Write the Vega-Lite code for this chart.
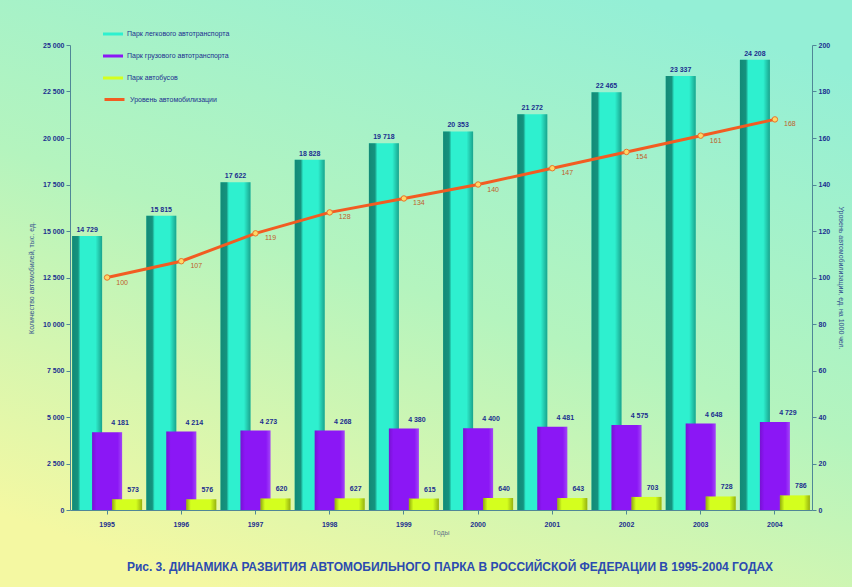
{
  "$schema": "https://vega.github.io/schema/vega-lite/v6.json",
  "width": 852,
  "height": 587,
  "autosize": {"type": "none"},
  "padding": 0,
  "background": "#C4F3BC",
  "config": {
    "font": "Liberation Sans",
    "locale": {"number": {"decimal": ",", "thousands": " ", "grouping": [3], "currency": ["", ""]}},
    "view": {"stroke": null, "fill": {"gradient": "linear", "x1": 0.75, "y1": 0, "x2": 0.25, "y2": 1, "stops": [{"offset": 0, "color": "#94EFD6"}, {"offset": 0.5, "color": "#B4F4BE"}, {"offset": 1, "color": "#F4F8A2"}]}},
    "axis": {"labelFont": "Liberation Sans", "labelFontSize": 7, "labelFontWeight": "bold", "labelColor": "#1B2F8F", "domainColor": "#4F8797", "tickColor": "#4F8797", "tickSize": 4, "grid": false, "titleFont": "Liberation Sans", "titleFontSize": 7, "titleFontWeight": "normal", "titleColor": "#34508F"},
    "legend": {"labelFont": "Liberation Sans", "labelFontSize": 7, "labelColor": "#1B2F8F", "padding": 0, "rowPadding": 9, "labelOffset": 4}
  },
  "title": {"text": "Рис. 3. ДИНАМИКА РАЗВИТИЯ АВТОМОБИЛЬНОГО ПАРКА В РОССИЙСКОЙ ФЕДЕРАЦИИ В 1995-2004 ГОДАХ", "orient": "bottom", "frame": "group", "offset": -25, "fontSize": 12, "fontWeight": "bold", "color": "#2B4BB0", "dx": 24, "anchor": "middle"},
  "datasets": {
    "bars": [
      {"year": "1995", "series": "Парк легкового автотранспорта", "value": 14729},
      {"year": "1995", "series": "Парк грузового автотранспорта", "value": 4181},
      {"year": "1995", "series": "Парк автобусов", "value": 573},
      {"year": "1996", "series": "Парк легкового автотранспорта", "value": 15815},
      {"year": "1996", "series": "Парк грузового автотранспорта", "value": 4214},
      {"year": "1996", "series": "Парк автобусов", "value": 576},
      {"year": "1997", "series": "Парк легкового автотранспорта", "value": 17622},
      {"year": "1997", "series": "Парк грузового автотранспорта", "value": 4273},
      {"year": "1997", "series": "Парк автобусов", "value": 620},
      {"year": "1998", "series": "Парк легкового автотранспорта", "value": 18828},
      {"year": "1998", "series": "Парк грузового автотранспорта", "value": 4268},
      {"year": "1998", "series": "Парк автобусов", "value": 627},
      {"year": "1999", "series": "Парк легкового автотранспорта", "value": 19718},
      {"year": "1999", "series": "Парк грузового автотранспорта", "value": 4380},
      {"year": "1999", "series": "Парк автобусов", "value": 615},
      {"year": "2000", "series": "Парк легкового автотранспорта", "value": 20353},
      {"year": "2000", "series": "Парк грузового автотранспорта", "value": 4400},
      {"year": "2000", "series": "Парк автобусов", "value": 640},
      {"year": "2001", "series": "Парк легкового автотранспорта", "value": 21272},
      {"year": "2001", "series": "Парк грузового автотранспорта", "value": 4481},
      {"year": "2001", "series": "Парк автобусов", "value": 643},
      {"year": "2002", "series": "Парк легкового автотранспорта", "value": 22465},
      {"year": "2002", "series": "Парк грузового автотранспорта", "value": 4575},
      {"year": "2002", "series": "Парк автобусов", "value": 703},
      {"year": "2003", "series": "Парк легкового автотранспорта", "value": 23337},
      {"year": "2003", "series": "Парк грузового автотранспорта", "value": 4648},
      {"year": "2003", "series": "Парк автобусов", "value": 728},
      {"year": "2004", "series": "Парк легкового автотранспорта", "value": 24208},
      {"year": "2004", "series": "Парк грузового автотранспорта", "value": 4729},
      {"year": "2004", "series": "Парк автобусов", "value": 786}
    ],
    "line": [
      {"year": "1995", "level": 100},
      {"year": "1996", "level": 107},
      {"year": "1997", "level": 119},
      {"year": "1998", "level": 128},
      {"year": "1999", "level": 134},
      {"year": "2000", "level": 140},
      {"year": "2001", "level": 147},
      {"year": "2002", "level": 154},
      {"year": "2003", "level": 161},
      {"year": "2004", "level": 168}
    ]
  },
  "layer": [
    {
      "data": {"name": "bars"},
      "encoding": {
        "x": {"field": "year", "type": "nominal", "sort": null, "scale": {"range": [70, 812], "paddingInner": 0, "paddingOuter": 0}, "axis": {"orient": "bottom", "offset": -77, "title": "Годы", "titleY": 22, "titleBaseline": "middle", "titleColor": "#6A7A8A", "labelAngle": 0, "labelPadding": 6}},
        "xOffset": {"field": "series", "type": "nominal", "sort": ["Парк легкового автотранспорта", "Парк грузового автотранспорта", "Парк автобусов"], "scale": {"domain": ["Парк легкового автотранспорта", "Парк грузового автотранспорта", "Парк автобусов"], "paddingInner": 0, "paddingOuter": 0.355}},
        "y": {"field": "value", "type": "quantitative", "scale": {"domain": [0, 25000], "range": [510, 45], "nice": false, "zero": true}, "axis": {"orient": "left", "offset": -70, "values": [0, 2500, 5000, 7500, 10000, 12500, 15000, 17500, 20000, 22500, 25000], "format": ",d", "title": "Количество автомобилей, тыс. ед.", "titlePadding": 8}}
      },
      "layer": [
        {"transform": [{"filter": "datum.series === 'Парк легкового автотранспорта'"}], "mark": {"type": "bar", "width": 30},
         "encoding": {"fill": {"field": "series", "type": "nominal", "scale": {"domain": ["Парк легкового автотранспорта", "Парк грузового автотранспорта", "Парк автобусов"], "range": ["#2EF0CF", "#8B17F5", "#D4FF1E"]}, "legend": {"orient": "none", "legendX": 103, "legendY": 24, "title": null, "symbolType": "M-1,-0.15H1V0.15H-1Z", "symbolSize": 400, "symbolStrokeWidth": 0}}}},
        {"transform": [{"filter": "datum.series === 'Парк легкового автотранспорта'"}], "mark": {"type": "bar", "width": 30, "fill": {"gradient": "linear", "x1": 0, "y1": 0, "x2": 1, "y2": 0, "stops": [{"offset": 0, "color": "rgba(0,70,60,0.6)"}, {"offset": 0.2, "color": "rgba(0,70,60,0.55)"}, {"offset": 0.28, "color": "rgba(0,70,60,0)"}, {"offset": 0.78, "color": "rgba(0,70,60,0)"}, {"offset": 1, "color": "rgba(0,70,60,0.45)"}]}}},
        {"transform": [{"filter": "datum.series === 'Парк грузового автотранспорта'"}], "mark": {"type": "bar", "width": 30},
         "encoding": {"fill": {"field": "series", "type": "nominal", "scale": {"domain": ["Парк легкового автотранспорта", "Парк грузового автотранспорта", "Парк автобусов"], "range": ["#2EF0CF", "#8B17F5", "#D4FF1E"]}, "legend": {"orient": "none", "legendX": 103, "legendY": 24, "title": null, "symbolType": "M-1,-0.15H1V0.15H-1Z", "symbolSize": 400, "symbolStrokeWidth": 0}}}},
        {"transform": [{"filter": "datum.series === 'Парк грузового автотранспорта'"}], "mark": {"type": "bar", "width": 30, "fill": {"gradient": "linear", "x1": 0, "y1": 0, "x2": 1, "y2": 0, "stops": [{"offset": 0, "color": "rgba(60,0,110,0.25)"}, {"offset": 0.15, "color": "rgba(60,0,110,0)"}, {"offset": 0.85, "color": "rgba(255,255,255,0)"}, {"offset": 1, "color": "rgba(255,255,255,0.2)"}]}}},
        {"transform": [{"filter": "datum.series === 'Парк автобусов'"}], "mark": {"type": "bar", "width": 30},
         "encoding": {"fill": {"field": "series", "type": "nominal", "scale": {"domain": ["Парк легкового автотранспорта", "Парк грузового автотранспорта", "Парк автобусов"], "range": ["#2EF0CF", "#8B17F5", "#D4FF1E"]}, "legend": {"orient": "none", "legendX": 103, "legendY": 24, "title": null, "symbolType": "M-1,-0.15H1V0.15H-1Z", "symbolSize": 400, "symbolStrokeWidth": 0}}}},
        {"transform": [{"filter": "datum.series === 'Парк автобусов'"}], "mark": {"type": "bar", "width": 30, "fill": {"gradient": "linear", "x1": 0, "y1": 0, "x2": 1, "y2": 0, "stops": [{"offset": 0, "color": "rgba(90,100,0,0.55)"}, {"offset": 0.15, "color": "rgba(90,100,0,0)"}, {"offset": 0.8, "color": "rgba(90,100,0,0)"}, {"offset": 1, "color": "rgba(90,100,0,0.5)"}]}}},
        {"transform": [{"filter": "datum.series === 'Парк легкового автотранспорта'"}], "mark": {"type": "text", "baseline": "bottom", "dy": -3, "fontSize": 7, "fontWeight": "bold", "color": "#1B2F8F"}, "encoding": {"text": {"field": "value", "type": "quantitative", "format": ",d"}}},
        {"transform": [{"filter": "datum.series === 'Парк грузового автотранспорта'"}], "mark": {"type": "text", "baseline": "bottom", "dy": -6, "dx": 13, "fontSize": 7, "fontWeight": "bold", "color": "#1B2F8F"}, "encoding": {"text": {"field": "value", "type": "quantitative", "format": ",d"}}},
        {"transform": [{"filter": "datum.series === 'Парк автобусов'"}], "mark": {"type": "text", "baseline": "bottom", "dy": -6, "dx": 6, "fontSize": 7, "fontWeight": "bold", "color": "#1B2F8F"}, "encoding": {"text": {"field": "value", "type": "quantitative", "format": ",d"}}}
      ]
    },
    {
      "data": {"name": "line"},
      "encoding": {
        "x": {"field": "year", "type": "nominal", "sort": null, "scale": {"range": [70, 812], "paddingInner": 0, "paddingOuter": 0}, "axis": {"orient": "bottom", "offset": -77, "title": "Годы", "titleY": 22, "titleBaseline": "middle", "titleColor": "#6A7A8A", "labelAngle": 0, "labelPadding": 6}},
        "y": {"field": "level", "type": "quantitative", "scale": {"domain": [0, 200], "range": [510, 45], "nice": false}, "axis": {"orient": "right", "offset": -40, "values": [0, 20, 40, 60, 80, 100, 120, 140, 160, 180, 200], "title": "Уровень автомобилизации, ед. на 1000 чел.", "titlePadding": 8}}
      },
      "layer": [
        {"mark": {"type": "line", "strokeWidth": 3},
         "encoding": {"stroke": {"datum": "Уровень автомобилизации", "type": "nominal", "scale": {"range": ["#F25C22"]}, "legend": {"orient": "none", "legendX": 103, "legendY": 88, "title": null, "symbolType": "stroke", "symbolSize": 400, "symbolStrokeWidth": 3}}}},
        {"mark": {"type": "point", "shape": "circle", "filled": true, "fill": "#FFD766", "stroke": "#E8742A", "strokeWidth": 1, "size": 30, "opacity": 1}},
        {"mark": {"type": "text", "dx": 15, "dy": 5, "fontSize": 7, "color": "#C0602A"}, "encoding": {"text": {"field": "level", "type": "quantitative"}}}
      ]
    }
  ],
  "resolve": {"scale": {"y": "independent"}}
}
